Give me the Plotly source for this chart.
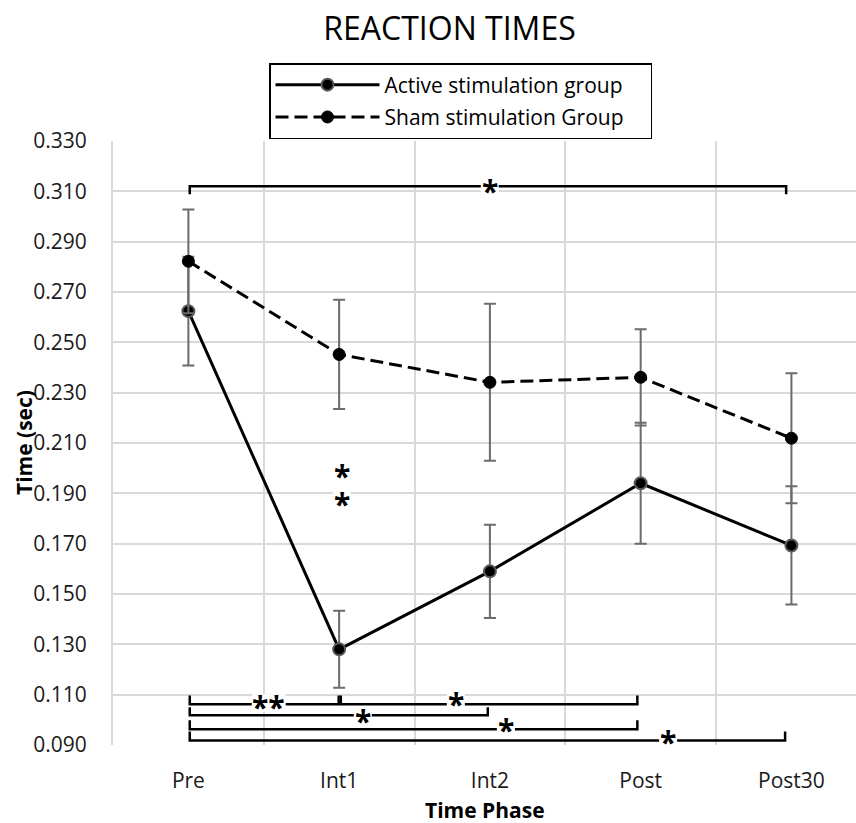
import plotly.graph_objects as go

categories = ["Pre", "Int1", "Int2", "Post", "Post30"]
active = [0.2624, 0.1280, 0.1590, 0.1940, 0.1693]
active_err = [0.0216, 0.0153, 0.0185, 0.0240, 0.0235]
sham = [0.2822, 0.2452, 0.2341, 0.2361, 0.2119]
sham_err = [0.0206, 0.0217, 0.0312, 0.0191, 0.0258]
y_ticks = [0.090, 0.110, 0.130, 0.150, 0.170, 0.190, 0.210, 0.230, 0.250, 0.270, 0.290, 0.310, 0.330]

# significance brackets: (start index, end index, line y, tip y)
brackets = [
    (0.009, 3.965, 0.3120, 0.3088),
    (0.009, 0.997, 0.1062, 0.1097),
    (1.011, 2.978, 0.1062, 0.1097),
    (0.009, 1.986, 0.1018, 0.1050),
    (0.009, 2.978, 0.0963, 0.0998),
    (0.009, 3.958, 0.0918, 0.0954),
]
# significance marks: (x, y, text)
stars = [
    (1.999, 0.3116, "*"),
    (0.533, 0.1066, "**"),
    (1.774, 0.1078, "*"),
    (1.157, 0.1011, "*"),
    (2.106, 0.0975, "*"),
    (3.182, 0.0926, "*"),
    (1.017, 0.1983, "*"),
    (1.017, 0.1872, "*"),
]

xs = list(range(len(categories)))
FONT = "Open Sans"
PAD = "\u00a0" * 4

fig = go.Figure()
fig.add_trace(go.Scatter(
    x=xs, y=active, name="Active stimulation group" + PAD, mode="lines+markers",
    legendgroup="a",
    line=dict(color="black", width=3),
    marker=dict(size=12, color="black", line=dict(color="#5a5a5a", width=2)),
    error_y=dict(type="data", array=active_err, visible=True, color="#6b6b6b", thickness=2, width=6),
))
fig.add_trace(go.Scatter(
    x=xs, y=sham, name="Sham stimulation Group" + PAD, mode="lines+markers",
    legendgroup="b",
    line=dict(color="black", width=3, dash="13px,6px"),
    marker=dict(size=12, color="black", line=dict(color="black", width=1)),
    error_y=dict(type="data", array=sham_err, visible=True, color="#6b6b6b", thickness=2, width=6),
))

shapes = []
for x0, x1, yl, yt in brackets:
    shapes.append(dict(type="path", xref="x", yref="y",
                       path=f"M{x0},{yt} L{x0},{yl} L{x1},{yl} L{x1},{yt}",
                       line=dict(color="black", width=2.5), layer="above"))
for sx, sy, txt in stars:
    w = 16 * len(txt) + 2
    shapes.append(dict(type="rect", xref="x", yref="y", xsizemode="pixel", ysizemode="pixel",
                       xanchor=sx, yanchor=sy, x0=-w / 2, x1=w / 2, y0=-9, y1=9,
                       fillcolor="white", line=dict(width=0), layer="above"))

annotations = []
for sx, sy, txt in stars:
    annotations.append(dict(x=sx, y=sy, xref="x", yref="y", text=f"<b>{txt}</b>", showarrow=False,
                            font=dict(family=FONT, size=30, color="black"),
                            xanchor="center", yanchor="middle", yshift=-3))
annotations.append(dict(x=0.5, y=0, xref="paper", yref="paper", text="<b>Time Phase</b>",
                        showarrow=False, xanchor="center", yanchor="middle", yshift=-65,
                        font=dict(family=FONT, size=21, color="black")))
annotations.append(dict(x=0, y=0.5, xref="paper", yref="paper", text="<b>Time (sec)</b>",
                        showarrow=False, xanchor="center", yanchor="middle", xshift=-89,
                        textangle=-90, font=dict(family=FONT, size=21, color="black")))

fig.update_layout(
    width=856, height=823,
    margin=dict(l=113.3, r=0, t=140.6, b=78.4, autoexpand=False),
    paper_bgcolor="white", plot_bgcolor="white",
    title=dict(text="REACTION TIMES", x=449.5 / 856, xanchor="center", xref="container",
               y=1 - 29 / 823, yanchor="middle", yref="container",
               font=dict(family=FONT, size=32, color="black")),
    legend=dict(x=269 / 856, y=1 - 63 / 823, xanchor="left", yanchor="top",
                xref="container", yref="container", bordercolor="black", borderwidth=1.5,
                bgcolor="white", font=dict(family=FONT, size=21, color="black"),
                itemwidth=104, tracegroupgap=2),
    shapes=shapes, annotations=annotations,
    xaxis=dict(range=[-0.5, -0.5 + (856 - 113.3) / 150.7], tickmode="array", tickvals=xs,
               ticktext=categories, showgrid=False, zeroline=False, showline=False,
               ticks="", ticklabelstandoff=21,
               tickfont=dict(family=FONT, size=21, color="#1a1a1a"),
               minor=dict(tickmode="linear", tick0=-0.5, dtick=1, showgrid=True,
                          gridcolor="#d9d9d9", gridwidth=2, ticks="")),
    yaxis=dict(range=[0.090, 0.330], tickmode="array", tickvals=y_ticks, tickformat=".3f",
               showgrid=True, gridcolor="#d9d9d9", gridwidth=2, zeroline=False,
               showline=True, linecolor="#d9d9d9", linewidth=2, ticks="", ticklabelstandoff=20,
               tickfont=dict(family=FONT, size=21, color="#1a1a1a")),
)

fig.write_html("out.html")
